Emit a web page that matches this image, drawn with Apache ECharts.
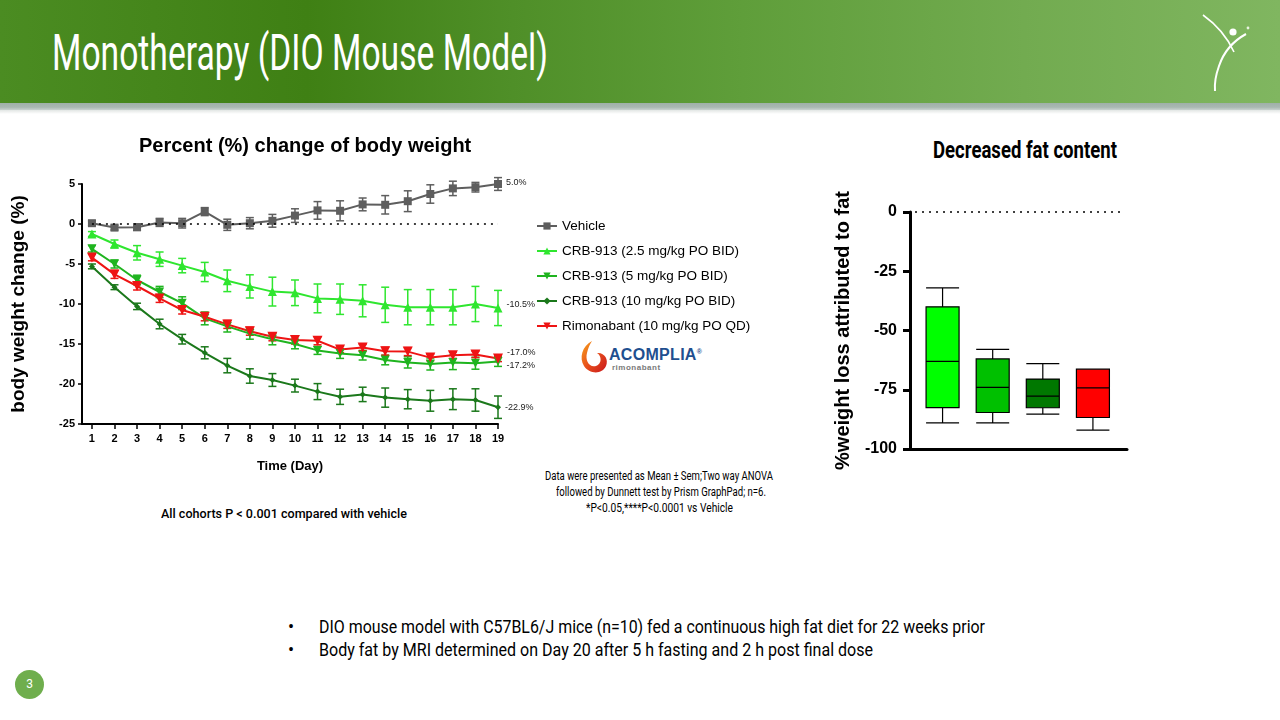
<!DOCTYPE html>
<html>
<head>
<meta charset="utf-8">
<script src="https://cdn.jsdelivr.net/npm/echarts@6/dist/echarts.min.js"></script>
<style>
  html, body { margin: 0; padding: 0; background: #fff; }
  #slide { position: relative; width: 1280px; height: 720px; overflow: hidden; font-family: Roboto, "Liberation Sans", sans-serif; }
  #header { position: absolute; left: 0; top: 0; width: 1280px; height: 103px;
    background: linear-gradient(90deg, #4b8c22 0%, #3f8014 24%, #4f8f28 40%, #5f9e3a 58%, #72ab50 80%, #80b660 100%); }
  #band { position: absolute; left: 0; top: 103px; width: 1280px; height: 7px;
    background: linear-gradient(180deg, #9fb0a8 0%, #a9b8b2 60%, #c9d2cf 100%); }
  #shade { position: absolute; left: 0; top: 110px; width: 1280px; height: 4px;
    background: linear-gradient(180deg, #e2e6e4, #fff); }
  .fit { position: absolute; white-space: nowrap; transform-origin: 0 50%; }
  .fit span { display: inline-block; }
  #chart { position: absolute; left: 0; top: 0; width: 1280px; height: 720px; }
</style>
</head>
<body>
<div id="slide">
  <div id="header"></div>
  <div id="band"></div>
  <div id="shade"></div>
  <svg style="position:absolute;left:1190px;top:5px" width="80" height="100" viewBox="1190 5 80 100">
    <path d="M1203,15 Q1224,30 1234,52" stroke="#fff" stroke-width="1.6" fill="none"/>
    <path d="M1246,34 Q1226,45 1219,66 Q1214,80 1215,91" stroke="#fff" stroke-width="2" fill="none"/>
    <circle cx="1233" cy="32" r="3.6" fill="#fff"/>
    <circle cx="1248" cy="28" r="1.4" fill="#e8f2e0"/>
  </svg>
  <div class="fit" data-w="496" style="left:52px;top:24px;height:58px;line-height:58px;font-size:50px;color:#fff;"><span>Monotherapy (DIO Mouse Model)</span></div>

  <div class="fit" data-w="184" style="left:933px;top:137px;height:28px;line-height:28px;font-size:23px;font-weight:bold;color:#000;"><span>Decreased fat content</span></div>

  <div class="fit" data-w="246" style="left:161px;top:506px;height:16px;line-height:16px;font-size:13px;font-weight:500;color:#000;"><span>All cohorts P &lt; 0.001 compared with vehicle</span></div>

  <div class="fit" data-w="228" style="left:545px;top:468px;height:16px;line-height:16px;font-size:12px;color:#000;"><span>Data were presented as Mean ± Sem;Two way ANOVA</span></div>
  <div class="fit" data-w="210" style="left:556px;top:484px;height:16px;line-height:16px;font-size:12px;color:#000;"><span>followed by Dunnett test by Prism GraphPad; n=6.</span></div>
  <div class="fit" data-w="147" style="left:586px;top:500px;height:16px;line-height:16px;font-size:12px;color:#000;"><span>*P&lt;0.05,****P&lt;0.0001 vs Vehicle</span></div>

  <!-- ACOMPLIA logo -->
  <svg style="position:absolute;left:578px;top:338px" width="34" height="38" viewBox="0 0 34 38">
    <defs>
      <linearGradient id="sw" x1="0" y1="0" x2="1" y2="1">
        <stop offset="0" stop-color="#f7a21b"/>
        <stop offset="0.5" stop-color="#e8501c"/>
        <stop offset="1" stop-color="#c8161d"/>
      </linearGradient>
    </defs>
    <path d="M14,3 C4,8 1,20 6,28 C11,36 24,37 28,28 C31,21 26,14 19,15 C24,18 24,26 18,28 C11,30 7,22 9,15 C10,10 12,6 14,3 Z" fill="url(#sw)"/>
  </svg>
  <div style="position:absolute;left:609px;top:346px;font-family:'Liberation Sans',Arial,sans-serif;font-weight:bold;font-size:16px;color:#1f4f8f;letter-spacing:0.3px;">ACOMPLIA<sup style="font-size:7px;">®</sup></div>
  <div style="position:absolute;left:612px;top:363px;font-family:'Liberation Sans',Arial,sans-serif;font-weight:bold;font-size:8px;color:#7a7a7a;letter-spacing:0.5px;">rimonabant</div>

  <div style="position:absolute;left:288px;top:615px;font-size:18px;line-height:23px;">•</div>
  <div style="position:absolute;left:288px;top:638px;font-size:18px;line-height:23px;">•</div>
  <div class="fit" data-w="666" style="left:319px;top:615px;height:24px;line-height:24px;font-size:18px;color:#000;"><span>DIO mouse model with C57BL6/J mice (n=10) fed a continuous high fat diet for 22 weeks prior</span></div>
  <div class="fit" data-w="554" style="left:319px;top:638px;height:24px;line-height:24px;font-size:18px;color:#000;"><span>Body fat by MRI determined on Day 20 after 5 h fasting and 2 h post final dose</span></div>

  <div style="position:absolute;left:15px;top:670px;width:29px;height:29px;border-radius:50%;background:#6fae4d;color:#fff;font-size:12px;line-height:29px;text-align:center;">3</div>

  <div id="chart"></div>
</div>

<script>
// ---- body weight change (%) by day, mean and SEM ----
const days = [1, 2, 3, 4, 5, 6, 7, 8, 9, 10, 11, 12, 13, 14, 15, 16, 17, 18, 19]
const vehicle = [0.1, -0.45, -0.4, 0.2, 0.1, 1.55, -0.1, 0.1, 0.4, 1.05, 1.7, 1.65, 2.45, 2.4, 2.85, 3.75, 4.45, 4.6, 5.0]
const vehicleSem = [0.3, 0.3, 0.4, 0.5, 0.6, 0.5, 0.7, 0.7, 0.8, 0.85, 1.1, 1.25, 0.8, 1.15, 1.3, 1.15, 0.9, 0.6, 0.8]
const crb25 = [-1.25, -2.5, -3.6, -4.4, -5.2, -6.0, -7.1, -7.8, -8.45, -8.6, -9.3, -9.4, -9.6, -10.1, -10.4, -10.4, -10.4, -10.0, -10.5]
const crb25Sem = [0.3, 0.5, 0.9, 0.9, 0.9, 1.2, 1.35, 1.45, 1.8, 1.6, 1.8, 1.9, 2.0, 2.2, 2.2, 2.2, 2.2, 2.2, 2.2]
const crb5 = [-3.1, -5.0, -7.0, -8.5, -9.9, -11.8, -12.8, -13.7, -14.4, -15.0, -15.8, -16.2, -16.4, -17.0, -17.3, -17.5, -17.3, -17.4, -17.2]
const crb5Sem = [0.4, 0.5, 0.6, 0.7, 0.8, 0.8, 0.7, 0.7, 0.7, 0.6, 0.5, 0.6, 0.6, 0.6, 0.7, 0.75, 0.9, 0.75, 0.6]
const crb10 = [-5.3, -7.9, -10.3, -12.5, -14.4, -16.1, -17.7, -19.0, -19.5, -20.2, -20.95, -21.6, -21.3, -21.7, -21.9, -22.1, -21.9, -22.0, -22.9]
const crb10Sem = [0.3, 0.3, 0.4, 0.6, 0.6, 0.75, 0.9, 0.9, 0.8, 0.8, 1.0, 0.95, 0.9, 1.2, 1.2, 1.3, 1.3, 1.4, 1.4]
const rimo = [-4.2, -6.3, -7.75, -9.3, -10.75, -11.6, -12.55, -13.4, -14.1, -14.5, -14.6, -15.7, -15.45, -15.9, -15.95, -16.7, -16.4, -16.3, -16.8]
const rimoSem = [0.4, 0.5, 0.5, 0.5, 0.5, 0.5, 0.5, 0.5, 0.5, 0.5, 0.5, 0.4, 0.4, 0.5, 0.5, 0.4, 0.4, 0.4, 0.4]
const seriesNames = ['Vehicle', 'CRB-913 (2.5 mg/kg PO BID)', 'CRB-913 (5 mg/kg PO BID)', 'CRB-913 (10 mg/kg PO BID)', 'Rimonabant (10 mg/kg PO QD)']
const endLabels = ['5.0%', '-10.5%', '-17.2%', '-22.9%', '-17.0%']

// ---- fat content box plot: [min, Q1, median, Q3, max] ----
const boxGroups = ['CRB-913 (2.5 mg/kg)', 'CRB-913 (5 mg/kg)', 'CRB-913 (10 mg/kg)', 'Rimonabant (10 mg/kg)']
const fatBox = [
  [-89, -82.5, -63, -40, -32],
  [-89, -84.6, -74, -62, -58],
  [-85.3, -82.6, -77.7, -70.5, -64],
  [-92, -86.7, -74.2, -66.3, -66.3]
]

const FONT = '"Liberation Sans", Arial, sans-serif'

// condensed slide text: squeeze to the measured width
document.querySelectorAll('.fit').forEach(el => {
  const w = +el.dataset.w
  const span = el.querySelector('span')
  const real = span.getBoundingClientRect().width
  if (real > 0) el.style.transform = `scaleX(${w / real})`
})

const lineStyles = [
  { color: '#5e5e5e', symbol: 'rect', size: 8, rotate: 0, labelOffset: [0, -1] },
  { color: '#2fe62f', symbol: 'triangle', size: 9, rotate: 0, labelOffset: [0, -3] },
  { color: '#1fb41f', symbol: 'triangle', size: 9, rotate: 180, labelOffset: [0, 4] },
  { color: '#1b781b', symbol: 'diamond', size: 6, rotate: 0, labelOffset: [0, 0] },
  { color: '#ee1414', symbol: 'triangle', size: 10, rotate: 180, labelOffset: [0, -6] }
]
const means = [vehicle, crb25, crb5, crb10, rimo]
const sems = [vehicleSem, crb25Sem, crb5Sem, crb10Sem, rimoSem]

function errorBar(color) {
  return function (params, api) {
    const x = api.value(0), y = api.value(1), e = api.value(2)
    const hi = api.coord([x, y + e])
    const lo = api.coord([x, y - e])
    const hw = 4
    const style = { stroke: color, lineWidth: 1.5 }
    return {
      type: 'group',
      children: [
        { type: 'line', shape: { x1: hi[0], y1: hi[1], x2: lo[0], y2: lo[1] }, style },
        { type: 'line', shape: { x1: hi[0] - hw, y1: hi[1], x2: hi[0] + hw, y2: hi[1] }, style },
        { type: 'line', shape: { x1: lo[0] - hw, y1: lo[1], x2: lo[0] + hw, y2: lo[1] }, style }
      ]
    }
  }
}

const dotted = { color: '#000', type: [2, 5], width: 1.6 }

const series = []
means.forEach((vals, k) => {
  const st = lineStyles[k]
  const data = days.map((d, i) => [d, vals[i]])
  const last = data.length - 1
  data[last] = {
    value: data[last],
    label: {
      show: true, position: 'right', distance: 4, offset: st.labelOffset,
      formatter: endLabels[k], fontSize: 9, fontFamily: FONT, color: '#222'
    }
  }
  series.push({
    name: seriesNames[k],
    type: 'line',
    xAxisIndex: 0, yAxisIndex: 0,
    data: data,
    symbol: st.symbol, symbolSize: st.size, symbolRotate: st.rotate,
    showAllSymbol: true,
    itemStyle: { color: st.color },
    lineStyle: { color: st.color, width: 2 },
    emphasis: { disabled: true },
    z: 3,
    markLine: k === 0 ? {
      silent: true, symbol: 'none', label: { show: false },
      lineStyle: dotted,
      data: [[{ coord: [1, 0] }, { coord: [19, 0] }]]
    } : undefined
  })
  series.push({
    type: 'custom',
    xAxisIndex: 0, yAxisIndex: 0,
    renderItem: errorBar(st.color),
    data: days.map((d, i) => [d, vals[i], sems[k][i]]),
    encode: { x: 0, y: 1 },
    z: 2,
    silent: true
  })
})

const boxColors = ['#00ff00', '#00c000', '#007800', '#ff0000']
series.push({
  name: 'fat',
  type: 'boxplot',
  xAxisIndex: 1, yAxisIndex: 1,
  boxWidth: [33, 33],
  data: fatBox.map((b, i) => ({
    name: boxGroups[i],
    value: [i + 1].concat(b),
    itemStyle: { color: boxColors[i], borderColor: '#000', borderWidth: 1.2 }
  })),
  emphasis: { disabled: true },
  markLine: {
    silent: true, symbol: 'none', label: { show: false },
    lineStyle: dotted,
    data: [[{ coord: [0.45, 0] }, { coord: [4.63, 0] }]]
  }
})

const chart = echarts.init(document.getElementById('chart'))
chart.setOption({
  animation: false,
  textStyle: { fontFamily: FONT },
  title: [{
    text: 'Percent (%) change of body weight',
    left: 139, top: 136, padding: 0,
    textStyle: { fontSize: 20, fontWeight: 'bold', fontFamily: FONT, color: '#000' }
  }],
  legend: {
    data: seriesNames,
    orient: 'vertical',
    left: 536, top: 218, padding: 0,
    itemWidth: 20, itemHeight: 9, itemGap: 9,
    textStyle: { fontSize: 13.5, fontFamily: FONT, color: '#000', lineHeight: 16 },
    selectedMode: false
  },
  grid: [
    { left: 82, top: 184, width: 416, height: 240 },
    { left: 910, top: 212, width: 217, height: 237 }
  ],
  xAxis: [{
    gridIndex: 0,
    type: 'value',
    min: 0.56, max: 19,
    name: 'Time (Day)', nameLocation: 'middle', nameGap: 36,
    nameTextStyle: { fontSize: 13, fontWeight: 'bold', color: '#000', fontFamily: FONT },
    axisLine: { onZero: false, lineStyle: { color: '#000', width: 2 } },
    axisTick: { show: true, length: 5, customValues: days, lineStyle: { color: '#000', width: 1.5 } },
    axisLabel: { customValues: days, fontSize: 11, fontWeight: 'bold', color: '#000', margin: 9 },
    splitLine: { show: false }
  }, {
    gridIndex: 1,
    type: 'value',
    min: 0.35, max: 4.68,
    axisLine: { onZero: false, lineStyle: { color: '#000', width: 3 } },
    axisTick: { show: false },
    axisLabel: { show: false },
    splitLine: { show: false }
  }],
  yAxis: [{
    gridIndex: 0,
    type: 'value',
    min: -25, max: 5, interval: 5,
    name: 'body weight change (%)', nameLocation: 'middle', nameGap: 54,
    nameTextStyle: { fontSize: 19, fontWeight: 'bold', color: '#000', fontFamily: FONT },
    axisLine: { show: true, onZero: false, lineStyle: { color: '#000', width: 2 } },
    axisTick: { show: true, length: 4, lineStyle: { color: '#000', width: 1.5 } },
    axisLabel: { fontSize: 11, fontWeight: 'bold', color: '#000', margin: 7 },
    splitLine: { show: false }
  }, {
    gridIndex: 1,
    type: 'value',
    min: -100, max: 0, interval: 25,
    name: '%weight loss attributed to fat', nameLocation: 'middle', nameGap: 57,
    nameTextStyle: { fontSize: 20, fontWeight: 'bold', color: '#000', fontFamily: FONT },
    axisLine: { show: true, onZero: false, lineStyle: { color: '#000', width: 3 } },
    axisTick: { show: true, length: 7, lineStyle: { color: '#000', width: 3 } },
    axisLabel: { fontSize: 16, fontWeight: 'bold', color: '#000', margin: 13 },
    splitLine: { show: false }
  }],
  series: series
})
</script>
</body>
</html>
